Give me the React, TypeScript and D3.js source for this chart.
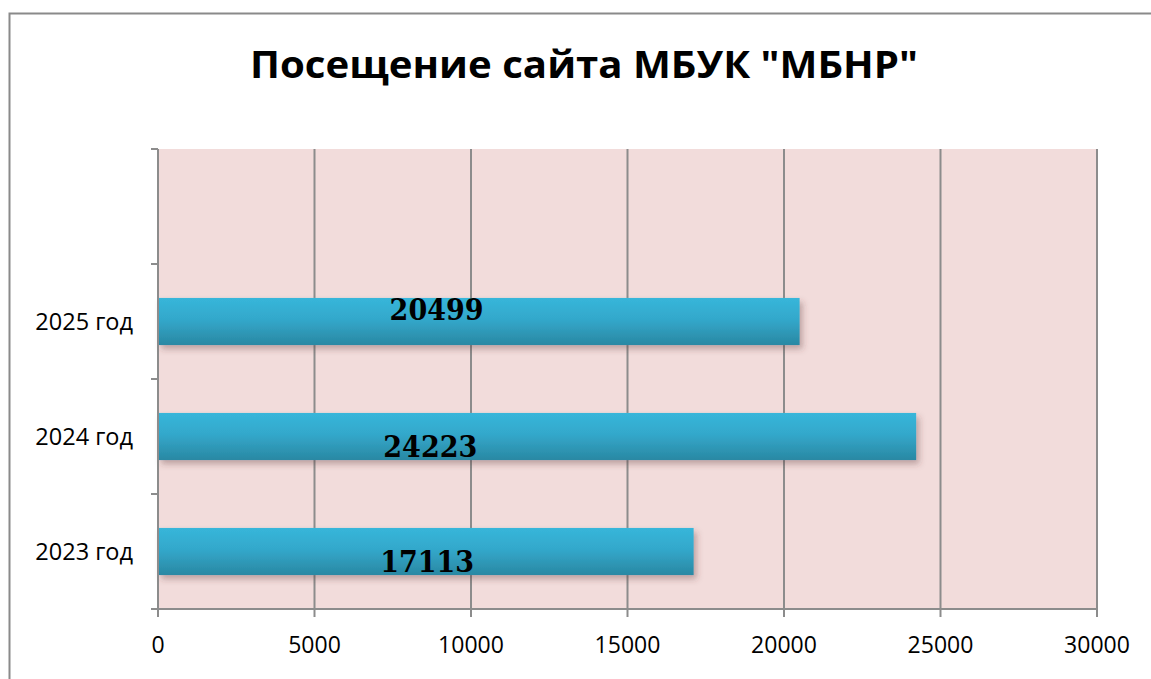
import { useEffect, useRef } from 'react';
import * as d3 from 'd3';

// data (bottom to top, as in the chart)
const CATEGORIES = ['2023 год', '2024 год', '2025 год'];
const VISITS = [17113, 24223, 20499];
const X_TICKS = [0, 5000, 10000, 15000, 20000, 25000, 30000];
const TITLE = 'Посещение сайта МБУК "МБНР"';

const WIDTH = 1151;
const HEIGHT = 679;

export default function App() {
  const svgRef = useRef<SVGSVGElement>(null);

  useEffect(() => {
    if (!svgRef.current) return;
    const svg = d3.select(svgRef.current);
    svg.selectAll('*').remove();

    const plot = { left: 158, right: 1097, top: 149, bottom: 609 };

    const x = d3.scaleLinear().domain([0, 30000]).range([plot.left, plot.right]);
    // the top band is an empty category, like in the source chart
    const y = d3
      .scaleBand<string>()
      .domain(['', ...CATEGORIES.slice().reverse()])
      .range([plot.top, plot.bottom])
      .paddingInner(0)
      .paddingOuter(0);
    const barH = y.bandwidth() * 0.41;

    const defs = svg.append('defs');
    const grad = defs
      .append('linearGradient')
      .attr('id', 'barGrad')
      .attr('x1', 0)
      .attr('y1', 0)
      .attr('x2', 0)
      .attr('y2', 1);
    grad.append('stop').attr('offset', '0%').attr('stop-color', '#37b6da');
    grad.append('stop').attr('offset', '45%').attr('stop-color', '#33a8cb');
    grad.append('stop').attr('offset', '100%').attr('stop-color', '#2a88a3');

    const shadow = defs
      .append('filter')
      .attr('id', 'barShadow')
      .attr('x', '-5%')
      .attr('y', '-20%')
      .attr('width', '115%')
      .attr('height', '160%');
    shadow
      .append('feDropShadow')
      .attr('dx', 3)
      .attr('dy', 4)
      .attr('stdDeviation', 3)
      .attr('flood-color', '#5a3030')
      .attr('flood-opacity', 0.35);

    // outer frame (cropped on the right and bottom)
    svg
      .append('rect')
      .attr('x', 9.5)
      .attr('y', 13.5)
      .attr('width', 1200)
      .attr('height', 720)
      .attr('fill', '#fff')
      .attr('stroke', '#8a8a8a')
      .attr('stroke-width', 2);

    svg
      .append('text')
      .attr('x', 584)
      .attr('y', 78)
      .attr('text-anchor', 'middle')
      .attr('textLength', 668)
      .attr('lengthAdjust', 'spacingAndGlyphs')
      .style('font-family', '"Open Sans", "Noto Sans", sans-serif')
      .style('font-weight', '700')
      .style('font-size', '37px')
      .style('fill', '#000')
      .text(TITLE);

    // plot background
    svg
      .append('rect')
      .attr('x', plot.left)
      .attr('y', plot.top)
      .attr('width', plot.right - plot.left)
      .attr('height', plot.bottom - plot.top)
      .attr('fill', '#f2dcdb');

    // vertical gridlines
    svg
      .append('g')
      .selectAll('line')
      .data(X_TICKS.slice(1))
      .enter()
      .append('line')
      .attr('x1', (d) => x(d))
      .attr('x2', (d) => x(d))
      .attr('y1', plot.top)
      .attr('y2', plot.bottom)
      .attr('stroke', '#8c8c8c')
      .attr('stroke-width', 2);

    // bars
    const rows = CATEGORIES.map((c, i) => ({ cat: c, value: VISITS[i] }));
    svg
      .append('g')
      .selectAll('rect')
      .data(rows)
      .enter()
      .append('rect')
      .attr('x', x(0))
      .attr('y', (d) => (y(d.cat) as number) + (y.bandwidth() - barH) / 2)
      .attr('width', (d) => x(d.value) - x(0))
      .attr('height', barH)
      .attr('fill', 'url(#barGrad)')
      .attr('filter', 'url(#barShadow)');

    // value labels (placed by hand in the source chart)
    const labelDy: Record<string, number> = {
      '2025 год': 22,
      '2024 год': 44,
      '2023 год': 44,
    };
    const labelX: Record<string, number> = {
      '2025 год': 8900,
      '2024 год': 8700,
      '2023 год': 8600,
    };
    svg
      .append('g')
      .selectAll('text')
      .data(rows)
      .enter()
      .append('text')
      .attr('x', (d) => x(labelX[d.cat]))
      .attr('y', (d) => (y(d.cat) as number) + (y.bandwidth() - barH) / 2 + labelDy[d.cat])
      .attr('text-anchor', 'middle')
      .style('font-family', '"DejaVu Serif Condensed", "DejaVu Serif", serif')
      .style('font-weight', '700')
      .style('font-size', '30px')
      .style('fill', '#000')
      .text((d) => String(d.value));

    // y axis
    const yAxis = svg.append('g');
    yAxis
      .append('line')
      .attr('x1', plot.left)
      .attr('x2', plot.left)
      .attr('y1', plot.top)
      .attr('y2', plot.bottom)
      .attr('stroke', '#8c8c8c')
      .attr('stroke-width', 2);
    const yTicks = [...y.domain().map((d) => y(d) as number), plot.bottom];
    yAxis
      .selectAll('line.tick')
      .data(yTicks)
      .enter()
      .append('line')
      .attr('class', 'tick')
      .attr('x1', plot.left - 7)
      .attr('x2', plot.left)
      .attr('y1', (d) => d)
      .attr('y2', (d) => d)
      .attr('stroke', '#8c8c8c')
      .attr('stroke-width', 2);
    yAxis
      .selectAll('text')
      .data(CATEGORIES)
      .enter()
      .append('text')
      .attr('x', 133)
      .attr('y', (d) => (y(d) as number) + y.bandwidth() / 2)
      .attr('dy', '0.35em')
      .attr('text-anchor', 'end')
      .style('font-family', '"Open Sans", "Noto Sans", sans-serif')
      .style('font-size', '23.5px')
      .style('fill', '#000')
      .text((d) => d);

    // x axis
    const xAxis = svg.append('g');
    xAxis
      .append('line')
      .attr('x1', plot.left - 7)
      .attr('x2', plot.right)
      .attr('y1', plot.bottom)
      .attr('y2', plot.bottom)
      .attr('stroke', '#8c8c8c')
      .attr('stroke-width', 2);
    xAxis
      .selectAll('line.tick')
      .data(X_TICKS)
      .enter()
      .append('line')
      .attr('class', 'tick')
      .attr('x1', (d) => x(d))
      .attr('x2', (d) => x(d))
      .attr('y1', plot.bottom)
      .attr('y2', plot.bottom + 8)
      .attr('stroke', '#8c8c8c')
      .attr('stroke-width', 2);
    xAxis
      .selectAll('text')
      .data(X_TICKS)
      .enter()
      .append('text')
      .attr('x', (d) => x(d))
      .attr('y', plot.bottom + 44)
      .attr('text-anchor', 'middle')
      .style('font-family', '"Open Sans", "Noto Sans", sans-serif')
      .style('font-size', '23px')
      .style('fill', '#000')
      .text((d) => String(d));
  }, []);

  return (
    <svg
      ref={svgRef}
      width={WIDTH}
      height={HEIGHT}
      style={{ position: 'absolute', left: 0, top: 0, display: 'block', background: '#fff' }}
    />
  );
}
